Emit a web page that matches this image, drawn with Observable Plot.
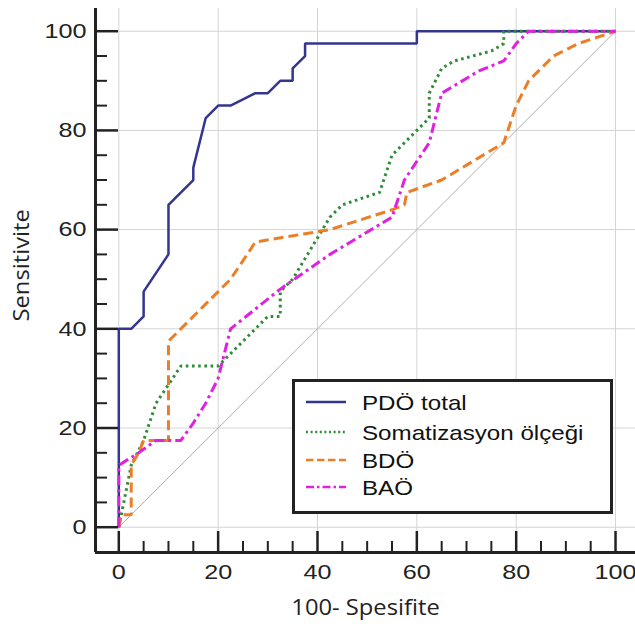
<!DOCTYPE html>
<html>
<head>
<meta charset="utf-8">
<script src="https://cdn.jsdelivr.net/npm/d3@7"></script>
<script src="https://cdn.jsdelivr.net/npm/@observablehq/plot@0.6"></script>
<style>
  html, body { margin: 0; padding: 0; background: #fff; }
  #wrap { position: relative; width: 635px; height: 628px; }
  #legend { position: absolute; background: #fff; box-sizing: border-box; }
</style>
</head>
<body>
<div id="wrap"></div>
<script>
// ---- data ----
const seriesNames = ["PDÖ total", "Somatizasyon ölçeği", "BDÖ", "BAÖ"];
const pdoTotal = [[0,0],[0,40],[2.5,40],[5,42.5],[5,47.5],[10,55],[10,65],[15,70],[15,72.5],[17.5,82.5],[20,85],[22.5,85],[27.5,87.5],[30,87.5],[32.5,90],[35,90],[35,92.5],[37.5,95],[37.5,97.5],[60,97.5],[60,100],[100,100]];
const somatizasyon = [[0,0],[2.5,12.5],[5,17.5],[7.5,25],[12.5,32.5],[20,32.5],[22.5,35],[30,42.5],[32.5,42.5],[32.5,47.5],[35,50],[42.5,62.5],[45,65],[52.5,67.5],[55,75],[60,80],[62.5,82.5],[62.5,87.5],[65,92.5],[67.5,94],[75,96],[77.5,97.5],[77.5,100],[100,100]];
const bdo = [[0,0],[0.5,2.5],[2.5,2.5],[2.5,12.5],[4,15],[5,17.5],[10,17.5],[10,37.5],[22.5,50],[27.5,57.5],[42.5,60],[55,64],[57.5,65],[58,67.5],[65,70],[77.5,77.5],[80,85],[82.5,90],[87.5,95],[92.5,97.5],[100,100]];
const bao = [[0,0],[0,12.5],[4,15],[7.5,17.5],[12.5,17.5],[15,21],[17.5,25],[20,30],[22.5,40],[32.5,48],[42.5,55],[55,62.5],[57.5,70],[62.5,77.5],[65,87.5],[67.5,89],[72.5,92],[77.5,94],[80,97.5],[82.5,100],[100,100]];
const diagonal = [[0,0],[100,100]];
const majorTicks = [0, 20, 40, 60, 80, 100];
const minorTicks = [5, 10, 15, 25, 30, 35, 45, 50, 55, 65, 70, 75, 85, 90, 95];
const xLabel = "100- Spesifite";
const yLabel = "Sensitivite";

// ---- styles ----
const colors = ["#34358f", "#2e8b36", "#ec7e28", "#de22de"];
const dashes = [null, "2.6,3.6", "10,5", "10,4,3,4"];
const widths = [2.5, 3, 3, 3];
const series = [pdoTotal, somatizasyon, bdo, bao];

const xDom = [-4.69, 104.02];
const yDom = [-5.1, 104.58];
const axisColor = "#222";
const tickFont = "'Liberation Sans', Arial, sans-serif";
const titleFont = "'Open Sans', 'Noto Sans', sans-serif";

const marks = [
  Plot.gridX(majorTicks, {stroke: "#d4d4d4", strokeOpacity: 1, strokeWidth: 1}),
  Plot.gridY(majorTicks, {stroke: "#d4d4d4", strokeOpacity: 1, strokeWidth: 1}),
  Plot.line(diagonal, {x: d => d[0], y: d => d[1], stroke: "#b0b0b0", strokeWidth: 1})
];
series.forEach((s, i) => {
  marks.push(Plot.line(s, {
    x: d => d[0], y: d => d[1],
    stroke: colors[i], strokeWidth: widths[i],
    strokeDasharray: dashes[i], strokeLinejoin: "miter", strokeLinecap: "butt"
  }));
});
marks.push(
  Plot.ruleX([xDom[0]], {stroke: axisColor, strokeWidth: 3}),
  Plot.ruleY([yDom[0]], {stroke: axisColor, strokeWidth: 3}),
  Plot.axisX(majorTicks, {anchor: "bottom", tickSize: -21, text: null, stroke: axisColor, strokeWidth: 2.5}),
  Plot.axisX(minorTicks, {anchor: "bottom", tickSize: -11, text: null, stroke: axisColor, strokeWidth: 2}),
  Plot.axisY(majorTicks, {anchor: "left", tickSize: -23, text: null, stroke: axisColor, strokeWidth: 2.5}),
  Plot.axisY(minorTicks, {anchor: "left", tickSize: -12, text: null, stroke: axisColor, strokeWidth: 2}),
  Plot.axisX(majorTicks, {anchor: "bottom", tickSize: 0, tickPadding: 12, fontSize: 21, fill: "#222", label: null}),
  Plot.axisY(majorTicks, {anchor: "left", tickSize: 0, tickPadding: 9, fontSize: 21, fill: "#222", label: null}),
  Plot.text([xLabel], {frameAnchor: "bottom", dy: 56, text: d => d, fontSize: 21, fontFamily: titleFont, fill: "#222", lineAnchor: "middle"}),
  Plot.text([yLabel], {frameAnchor: "left", dx: -73, dy: 41, rotate: -90, text: d => d, fontSize: 21, fontFamily: titleFont, fill: "#222", lineAnchor: "middle"})
);

const chart = Plot.plot({
  width: 635,
  height: 628,
  marginLeft: 95,
  marginRight: 0,
  marginTop: 8,
  marginBottom: 76,
  style: {fontFamily: tickFont, fontSize: "21px", background: "#fff", overflow: "visible"},
  x: {domain: xDom, axis: null},
  y: {domain: yDom, axis: null},
  marks
});

const wrap = document.getElementById("wrap");
wrap.appendChild(chart);

// The reference glyphs are horizontally stretched: widen text to match.
function stretch(sel, k) {
  sel.each(function () {
    const w = this.getComputedTextLength();
    if (w > 0) {
      this.setAttribute("textLength", (w * k).toFixed(1));
      this.setAttribute("lengthAdjust", "spacingAndGlyphs");
    }
  });
}
const svg = d3.select(chart);
stretch(svg.selectAll('g[aria-label="x-axis tick label"] text, g[aria-label="y-axis tick label"] text'), 1.2);
stretch(svg.selectAll('g[aria-label="text"] text'), 1.13);

// ---- legend (overlay box) ----
const lg = d3.select(wrap).append("div").attr("id", "legend")
  .style("left", "292px").style("top", "379px")
  .style("width", "321px").style("height", "135px")
  .style("border", "3px solid #222");
const lsvg = lg.append("svg").attr("width", 315).attr("height", 129)
  .style("position", "absolute").style("left", "0px").style("top", "0px");
const rowY = [20, 50, 78, 105];
seriesNames.forEach((name, i) => {
  lsvg.append("line")
    .attr("x1", 11).attr("x2", 51).attr("y1", rowY[i]).attr("y2", rowY[i])
    .attr("stroke", colors[i]).attr("stroke-width", 2.5)
    .attr("stroke-dasharray", i === 0 ? null : (i === 1 ? "2,2.6" : (i === 2 ? "7.5,3.5" : "8,3,2.5,3")));
  lsvg.append("text")
    .attr("x", 67).attr("y", rowY[i]).attr("dy", "0.36em")
    .attr("font-family", tickFont).attr("font-size", 21).attr("fill", "#111")
    .text(name);
});
stretch(lsvg.selectAll("text"), 1.15);
</script>
</body>
</html>
